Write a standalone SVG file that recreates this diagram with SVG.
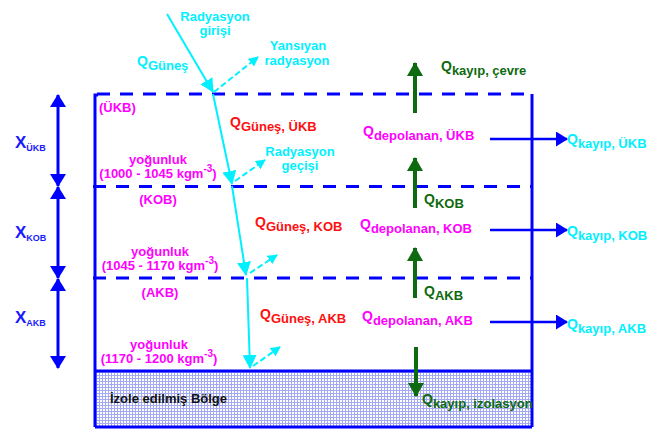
<svg xmlns="http://www.w3.org/2000/svg" width="660" height="429" viewBox="0 0 660 429">
<defs>
<style>
text{font-family:"Liberation Sans",Arial,sans-serif;font-weight:bold;font-size:13px}
.cy{fill:#00F0FF}.rd{fill:#FF1010}.mg{fill:#FF00FF}.gr{fill:#0E6A0E}.bl{fill:#1a1aff}.bk{fill:#111}
.q{font-size:14px}
.xl{font-size:17px}.xs{font-size:9px}
.dash{stroke:#0000FF;stroke-width:3;stroke-dasharray:13 10;fill:none}
.solid{stroke:#0000FF;stroke-width:3;fill:none}
.cline{stroke:#00F0FF;stroke-width:2;fill:none}
.cdash{stroke:#00F0FF;stroke-width:2;stroke-dasharray:6 3;fill:none}
.bline{stroke:#0000FF;stroke-width:2.5;fill:none}
.gline{stroke:#0E6A0E;stroke-width:4;fill:none}
</style>
<pattern id="grid" width="3" height="3" patternUnits="userSpaceOnUse">
<rect width="3" height="3" fill="#ffffff"/>
<path d="M0,0.5H3M0.5,0V3" stroke="#a4aaf2" stroke-width="1"/>
</pattern>
<marker id="acL" viewBox="0 0 14 14" refX="13" refY="7" markerWidth="14" markerHeight="14" markerUnits="userSpaceOnUse" orient="auto"><path d="M0,0L14,7L0,14z" fill="#00F0FF"/></marker>
<marker id="acS" viewBox="0 0 10 10" refX="9" refY="5" markerWidth="10" markerHeight="10" markerUnits="userSpaceOnUse" orient="auto"><path d="M0,0L10,5L0,10z" fill="#00F0FF"/></marker>
<marker id="ab" viewBox="0 0 12 15" refX="11" refY="7.5" markerWidth="12" markerHeight="15" markerUnits="userSpaceOnUse" orient="auto"><path d="M0,0L12,7.5L0,15z" fill="#0000FF"/></marker>
<marker id="abv" viewBox="0 0 13 16" refX="12" refY="8" markerWidth="13" markerHeight="16" markerUnits="userSpaceOnUse" orient="auto-start-reverse"><path d="M0,0L13,8L0,16z" fill="#0000FF"/></marker>
<marker id="ag" viewBox="0 0 14 16" refX="13" refY="8" markerWidth="14" markerHeight="16" markerUnits="userSpaceOnUse" orient="auto"><path d="M0,0L14,8L0,16z" fill="#0E6A0E"/></marker>
</defs>
<rect width="660" height="429" fill="#ffffff"/>

<g id="isolated-zone">
<rect x="95" y="371" width="437" height="56" fill="url(#grid)"/>
<path class="solid" d="M95,371H532M95,427H532"/>
<text class="bk" x="110" y="403">İzole edilmiş Bölge</text>
</g>

<g id="pond-frame">
<path class="solid" d="M98,95H95V427M532,94V427"/>
<path class="dash" d="M97,94H532"/>
<path class="dash" d="M93,186.5H532"/>
<path class="dash" d="M93,278H532"/>
</g>

<g id="layer-UKB">
<text class="mg" x="99" y="112">(ÜKB)</text>
<text class="mg" x="158" y="164" text-anchor="middle">yoğunluk</text>
<text class="mg" x="158" y="178" text-anchor="middle">(1000 - 1045 kgm<tspan font-size="10" dy="-6">-3</tspan><tspan dy="6">)</tspan></text>
<text class="rd" x="230" y="127"><tspan class="q">Q</tspan><tspan dy="4">Güneş, ÜKB</tspan></text>
<text class="mg" x="363" y="136"><tspan class="q">Q</tspan><tspan dy="4">depolanan, ÜKB</tspan></text>
<text class="cy" x="567" y="144"><tspan class="q">Q</tspan><tspan dy="4">kayıp, ÜKB</tspan></text>
<text class="bl xl" x="15" y="148">X<tspan class="xs" dy="3">ÜKB</tspan></text>
</g>

<g id="layer-KOB">
<text class="mg" x="158" y="204" text-anchor="middle">(KOB)</text>
<text class="mg" x="160" y="256" text-anchor="middle">yoğunluk</text>
<text class="mg" x="160" y="270" text-anchor="middle">(1045 - 1170 kgm<tspan font-size="10" dy="-6">-3</tspan><tspan dy="6">)</tspan></text>
<text class="rd" x="255" y="227"><tspan class="q">Q</tspan><tspan dy="4">Güneş, KOB</tspan></text>
<text class="mg" x="360" y="229"><tspan class="q">Q</tspan><tspan dy="4">depolanan, KOB</tspan></text>
<text class="cy" x="567" y="236"><tspan class="q">Q</tspan><tspan dy="4">kayıp, KOB</tspan></text>
<text class="bl xl" x="15" y="238">X<tspan class="xs" dy="3">KOB</tspan></text>
</g>

<g id="layer-AKB">
<text class="mg" x="160" y="297" text-anchor="middle">(AKB)</text>
<text class="mg" x="159" y="349" text-anchor="middle">yoğunluk</text>
<text class="mg" x="159" y="363" text-anchor="middle">(1170 - 1200 kgm<tspan font-size="10" dy="-6">-3</tspan><tspan dy="6">)</tspan></text>
<text class="rd" x="260" y="319"><tspan class="q">Q</tspan><tspan dy="4">Güneş, AKB</tspan></text>
<text class="mg" x="362" y="321"><tspan class="q">Q</tspan><tspan dy="4">depolanan, AKB</tspan></text>
<text class="cy" x="567" y="329"><tspan class="q">Q</tspan><tspan dy="4">kayıp, AKB</tspan></text>
<text class="bl xl" x="15" y="323">X<tspan class="xs" dy="3">AKB</tspan></text>
</g>

<g id="radiation-labels">
<text class="cy" x="215" y="21" text-anchor="middle">Radyasyon</text>
<text class="cy" x="215" y="35" text-anchor="middle">girişi</text>
<text class="cy" x="298" y="50" text-anchor="middle">Yansıyan</text>
<text class="cy" x="297" y="65" text-anchor="middle">radyasyon</text>
<text class="cy" x="137" y="66"><tspan class="q">Q</tspan><tspan dy="4">Güneş</tspan></text>
<text class="cy" x="300" y="156" text-anchor="middle">Radyasyon</text>
<text class="cy" x="300" y="170" text-anchor="middle">geçişi</text>
</g>

<g id="loss-labels">
<text class="gr" x="441" y="71"><tspan class="q">Q</tspan><tspan dy="4">kayıp, çevre</tspan></text>
<text class="gr" x="424" y="204"><tspan class="q">Q</tspan><tspan dy="4">KOB</tspan></text>
<text class="gr" x="424" y="296"><tspan class="q">Q</tspan><tspan dy="4">AKB</tspan></text>
<text class="gr" x="422" y="404"><tspan class="q">Q</tspan><tspan dy="4">kayıp, izolasyon</tspan></text>
</g>

<g id="connectors">
<path class="cline" d="M167,14L213,92" marker-end="url(#acL)"/>
<path class="cdash" d="M214,92L258,57" marker-end="url(#acS)"/>
<path class="cline" d="M213,94L232,184" marker-end="url(#acL)"/>
<path class="cdash" d="M235,181L265,160" marker-end="url(#acS)"/>
<path class="cline" d="M232,186L246,275" marker-end="url(#acL)"/>
<path class="cdash" d="M250,273L277,255" marker-end="url(#acS)"/>
<path class="cline" d="M247,278L250,368" marker-end="url(#acL)"/>
<path class="cdash" d="M253,366L280,347" marker-end="url(#acS)"/>

<path class="bline" d="M490,139H567" marker-end="url(#ab)"/>
<path class="bline" d="M490,230H567" marker-end="url(#ab)"/>
<path class="bline" d="M490,322H567" marker-end="url(#ab)"/>

<path class="solid" d="M58,95V186" marker-start="url(#abv)" marker-end="url(#abv)"/>
<path class="solid" d="M58,187V278" marker-start="url(#abv)" marker-end="url(#abv)"/>
<path class="solid" d="M58,279V368" marker-start="url(#abv)" marker-end="url(#abv)"/>

<path class="gline" d="M415,113V63" marker-end="url(#ag)"/>
<path class="gline" d="M415,208V158" marker-end="url(#ag)"/>
<path class="gline" d="M415,298V248" marker-end="url(#ag)"/>
<path class="gline" d="M416,347V396" marker-end="url(#ag)"/>
</g>
</svg>
